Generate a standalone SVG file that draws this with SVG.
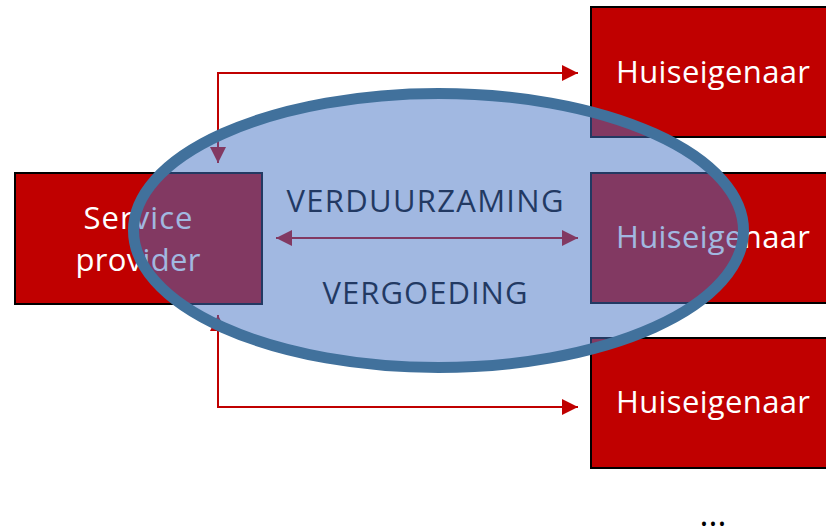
<svg xmlns="http://www.w3.org/2000/svg" width="826" height="529" viewBox="0 0 826 529">
<style>
.box{fill:#c00000;stroke:#000;stroke-width:2}
.lbl{font-family:"Open Sans",Lato,"Liberation Sans",sans-serif;fill:#fff;font-size:31px;text-anchor:middle}
.mid{font-family:"Open Sans",Lato,"Liberation Sans",sans-serif;fill:#000;font-size:31px;text-anchor:middle}
.con{fill:none;stroke:#c00000;stroke-width:2}
</style>
<defs>
<marker id="ah" markerUnits="userSpaceOnUse" markerWidth="16" markerHeight="16" viewBox="0 0 16 16" refX="16" refY="8" orient="auto-start-reverse">
<path d="M0,0 L16,8 L0,16 z" fill="#c00000"/>
</marker>
</defs>
<rect width="826" height="529" fill="#fff"/>
<g id="service-provider">
<rect class="box" x="15" y="173" width="247" height="131"/>
<text class="lbl" x="138" y="229" textLength="109">Service</text>
<text class="lbl" x="138" y="271" textLength="125">provider</text>
</g>
<g id="huiseigenaar-1">
<rect class="box" x="591" y="7" width="240" height="130"/>
<text class="lbl" x="713" y="83" textLength="194">Huiseigenaar</text>
</g>
<g id="huiseigenaar-2">
<rect class="box" x="591" y="173" width="240" height="130"/>
<text class="lbl" x="713" y="248" textLength="194">Huiseigenaar</text>
</g>
<g id="huiseigenaar-3">
<rect class="box" x="591" y="338" width="240" height="130"/>
<text class="lbl" x="713" y="413" textLength="194">Huiseigenaar</text>
</g>
<g id="connectors">
<path class="con" d="M218,163 V73 H578" marker-start="url(#ah)" marker-end="url(#ah)"/>
<path class="con" d="M218,315 V407 H578" marker-start="url(#ah)" marker-end="url(#ah)"/>
<path class="con" d="M276,238 H578" marker-start="url(#ah)" marker-end="url(#ah)"/>
</g>
<g id="labels">
<text class="mid" x="425" y="212" textLength="277">VERDUURZAMING</text>
<text class="mid" x="425" y="304" textLength="205">VERGOEDING</text>
</g>
<g id="ellipse">
<ellipse cx="438.5" cy="230.5" rx="305" ry="137" fill="#4472c4" fill-opacity="0.5" stroke="#41719c" stroke-width="11"/>
</g>
<g id="more">
<text x="713" y="526" font-family="'Open Sans','Liberation Sans',sans-serif" font-size="34" fill="#000" text-anchor="middle" textLength="27">...</text>
</g>
</svg>
